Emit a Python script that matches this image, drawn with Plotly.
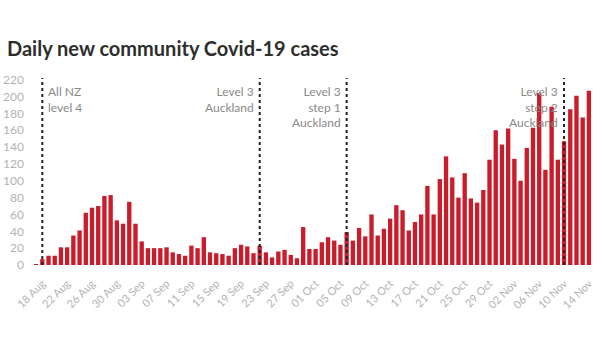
import pandas as pd
import plotly.graph_objects as go

start_date = "2021-08-17"
cases = [1, 7, 11, 11, 21, 21, 35, 41, 62, 68, 70, 82, 83, 53, 49, 75, 49, 28, 20, 20,
         20, 21, 15, 13, 11, 23, 20, 33, 15, 14, 13, 11, 20, 24, 22, 14, 23, 15, 9, 16,
         18, 12, 8, 45, 19, 19, 27, 33, 29, 24, 39, 29, 44, 34, 60, 35, 43, 55, 71, 65,
         41, 51, 60, 94, 60, 102, 129, 104, 80, 109, 79, 74, 89, 125, 160, 143, 162, 126, 100, 139,
         163, 204, 113, 188, 125, 147, 185, 201, 175, 207]
dates = pd.date_range(start_date, periods=len(cases), freq="D")

event_dates = ["2021-08-18", "2021-09-22", "2021-10-06", "2021-11-10"]
event_labels = ["All NZ<br>level 4", "Level 3<br>Auckland", "Level 3<br>step 1<br>Auckland",
                "Level 3<br>step 2<br>Auckland"]
event_sides = ["left", "right", "right", "right"]

y_ticks = list(range(0, 221, 20))

fig = go.Figure()
fig.add_trace(go.Bar(x=dates, y=cases, marker=dict(color="#c91d2b", line=dict(width=0)),
                     hoverinfo="x+y"))

for d, lab, side in zip(event_dates, event_labels, event_sides):
    fig.add_shape(type="line", x0=d, x1=d, y0=0, y1=222, xref="x", yref="y",
                  line=dict(color="#222222", width=2, dash="dot"), layer="above")
    fig.add_annotation(x=d, y=217, xref="x", yref="y", text=lab, showarrow=False,
                       xanchor=side, yanchor="top", align=side,
                       xshift=4 if side == "left" else -4,
                       font=dict(family="Lato, sans-serif", size=12, color="#8a8a8a"))

fig.update_layout(
    width=602, height=340,
    margin=dict(l=33, r=10, t=78, b=75),
    paper_bgcolor="white", plot_bgcolor="white",
    bargap=0.3,
    showlegend=False,
    title=dict(text="<b>Daily new community Covid-19 cases</b>",
               x=7 / 602, xanchor="left", xref="container",
               y=1 - 49 / 340, yanchor="middle", yref="container",
               font=dict(family="Lato, sans-serif", size=20, color="#2e2e2e")),
    xaxis=dict(type="date", range=["2021-08-16 12:00", "2021-11-14 12:00"],
               tick0="2021-08-18", dtick=4 * 86400000, tickformat="%d %b",
               tickangle=-45, showgrid=False, zeroline=False, showline=False, ticks="",
               automargin=False, ticklabelstandoff=9,
               tickfont=dict(family="Lato, sans-serif", size=11, color="#b3b3b3")),
    yaxis=dict(range=[0, 222], tickvals=y_ticks, showgrid=False, zeroline=False,
               showline=False, ticks="", ticklabelstandoff=8, automargin=False,
               tickfont=dict(family="Lato, sans-serif", size=12, color="#b3b3b3")),
)

fig.write_html("out.html")
